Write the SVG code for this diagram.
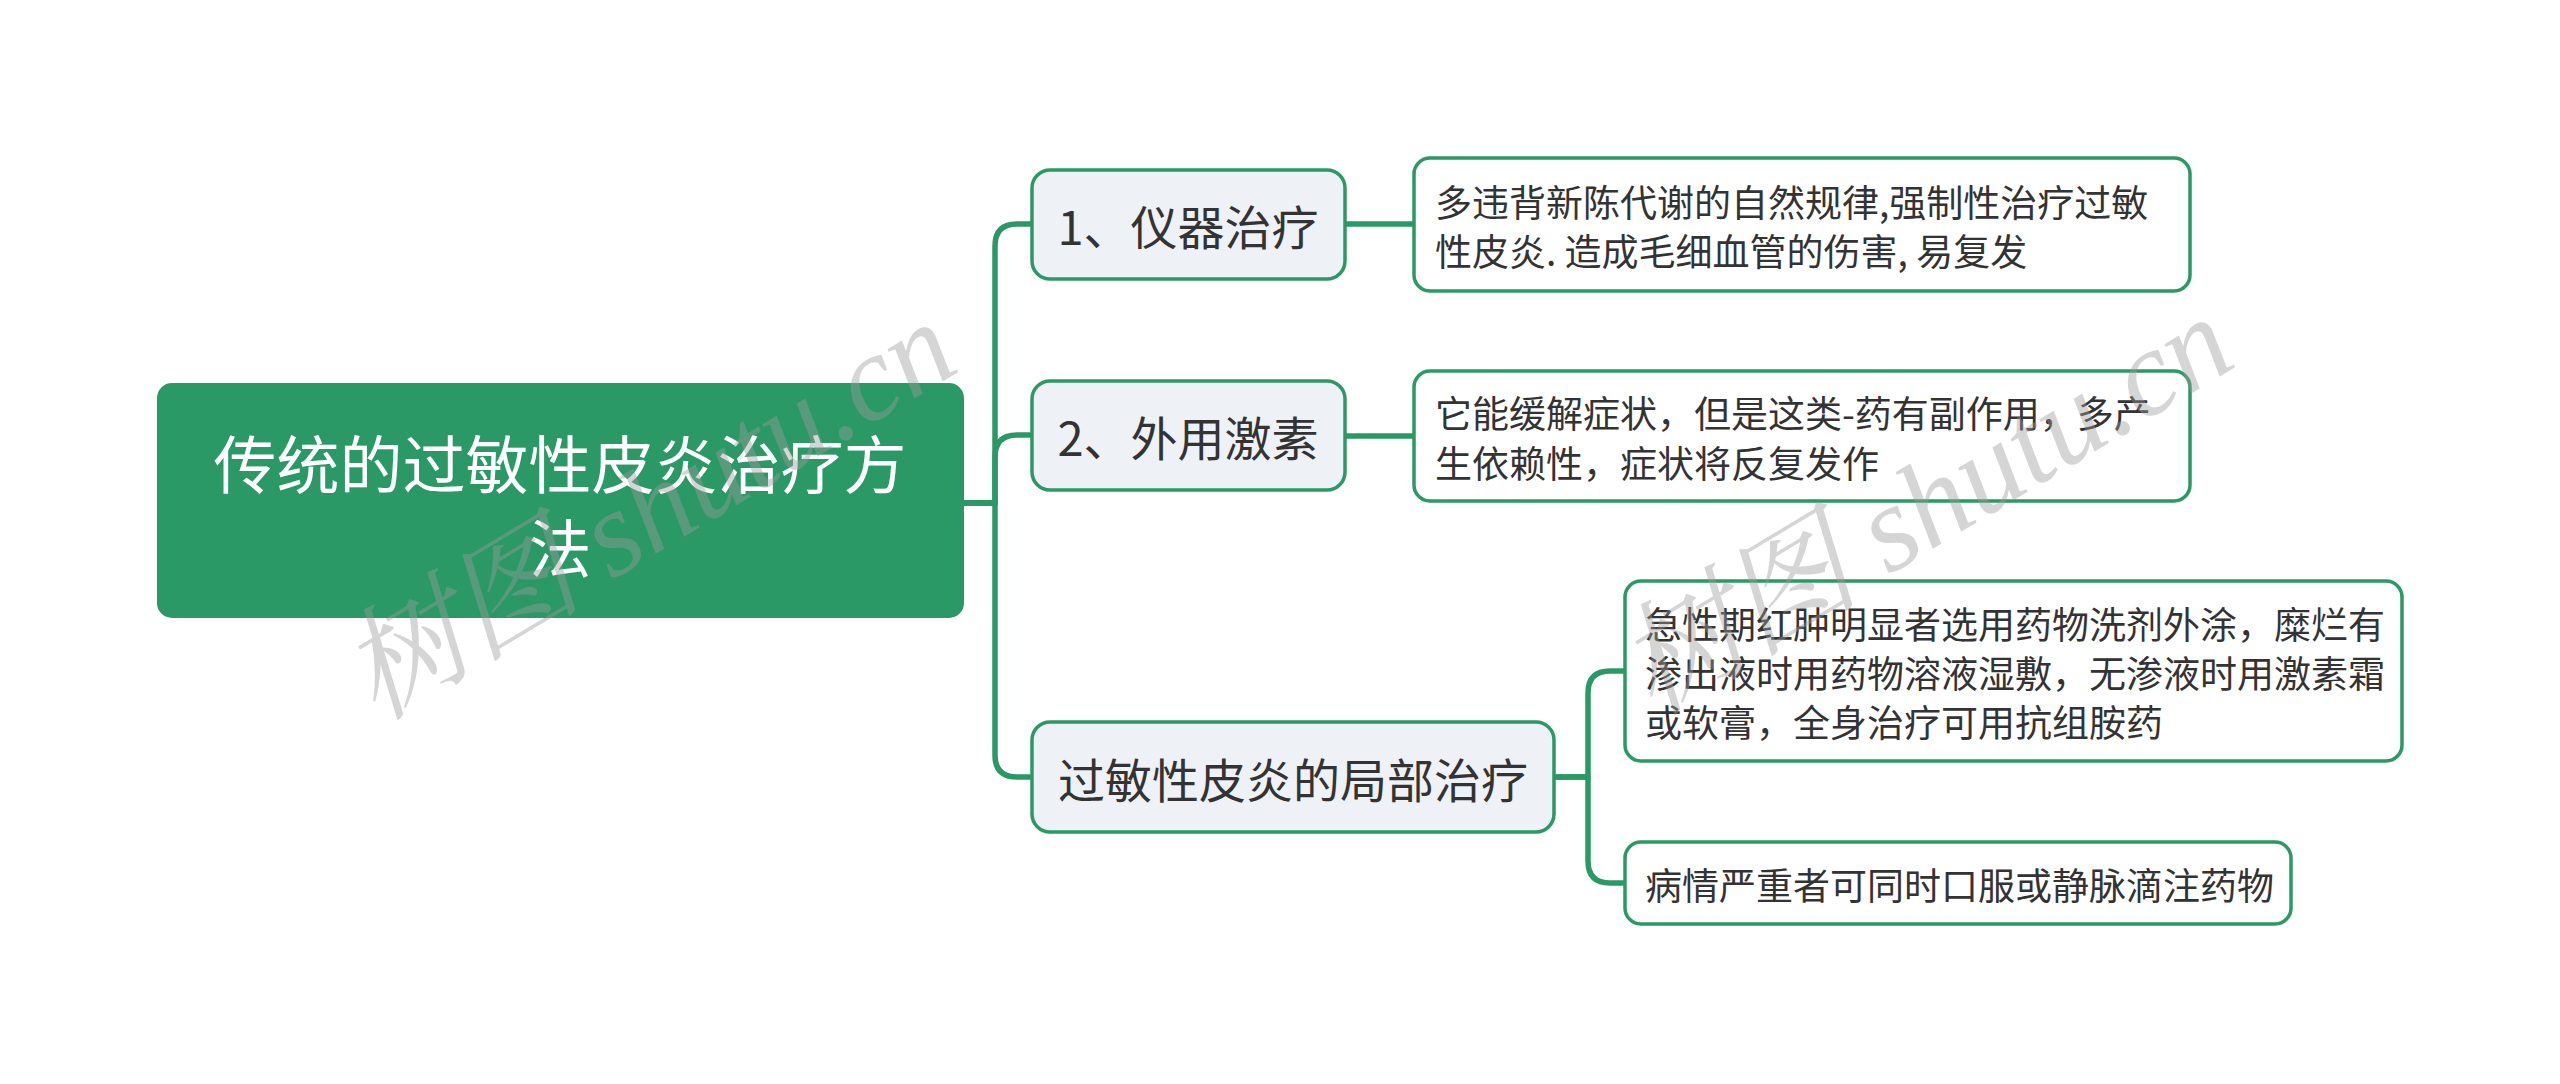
<svg xmlns="http://www.w3.org/2000/svg" width="2560" height="1084" viewBox="0 0 2560 1084">
<style>
.t{font-family:"Noto Sans CJK SC","Noto Sans",sans-serif;fill:#333333;dominant-baseline:central}
.root-box{fill:#2a9966;stroke:#2a9966;stroke-width:2}
.root-t{font-family:"Noto Sans CJK SC","Noto Sans",sans-serif;fill:#ffffff;font-size:63px;text-anchor:middle;dominant-baseline:central}
.br-box{fill:#eef1f5;stroke:#2a9966;stroke-width:3.5}
.br-t{font-size:47px;text-anchor:middle}
.lf-box{fill:#ffffff;stroke:#2a9966;stroke-width:3.5}
.lf-t{font-size:37px}
.conn{fill:none;stroke:#2a9966;stroke-width:5.5;stroke-linejoin:round}
.wm{font-family:"Liberation Serif","Noto Serif CJK SC","Noto Sans CJK SC",serif;font-style:italic;font-size:122px;fill:#9a9a9a;fill-opacity:0.42;text-anchor:middle;dominant-baseline:central}
</style>
<rect width="2560" height="1084" fill="#ffffff"/>
<g id="connectors">
<path class="conn" d="M963,503 H995 V246 Q995,224 1017,224 H1032"/>
<path class="conn" d="M963,503 H995 V457 Q995,435 1017,435 H1032"/>
<path class="conn" d="M963,503 H995 V755 Q995,777 1017,777 H1032"/>
<path class="conn" d="M1345,224 H1414"/>
<path class="conn" d="M1345,436 H1414"/>
<path class="conn" d="M1554,777 H1588 V693 Q1588,671 1610,671 H1625"/>
<path class="conn" d="M1554,777 H1588 V861 Q1588,883 1610,883 H1625"/>
</g>
<g id="root">
<rect class="root-box" x="158" y="384" width="805" height="233" rx="14"/>
<text class="root-t" x="560" y="460">传统的过敏性皮炎治疗方</text>
<text class="root-t" x="560" y="544">法</text>
</g>
<g id="branch1">
<rect class="br-box" x="1032" y="170" width="313" height="109" rx="18"/>
<text class="t br-t" x="1188" y="224">1、仪器治疗</text>
</g>
<g id="branch2">
<rect class="br-box" x="1032" y="381" width="313" height="109" rx="18"/>
<text class="t br-t" x="1188" y="435">2、外用激素</text>
</g>
<g id="branch3">
<rect class="br-box" x="1032" y="722" width="522" height="110" rx="18"/>
<text class="t br-t" x="1293" y="777">过敏性皮炎的局部治疗</text>
</g>
<g id="leaf1">
<rect class="lf-box" x="1414" y="158" width="776" height="133" rx="16"/>
<text class="t lf-t" x="1435" y="201">多违背新陈代谢的自然规律,强制性治疗过敏</text>
<text class="t lf-t" x="1435" y="250">性皮炎. 造成毛细血管的伤害, 易复发</text>
</g>
<g id="leaf2">
<rect class="lf-box" x="1414" y="371" width="776" height="130" rx="16"/>
<text class="t lf-t" x="1435" y="412">它能缓解症状，但是这类-药有副作用，多产</text>
<text class="t lf-t" x="1435" y="462">生依赖性，症状将反复发作</text>
</g>
<g id="leaf3">
<rect class="lf-box" x="1625" y="581" width="777" height="180" rx="16"/>
<text class="t lf-t" x="1645" y="623">急性期红肿明显者选用药物洗剂外涂，糜烂有</text>
<text class="t lf-t" x="1645" y="672">渗出液时用药物溶液湿敷，无渗液时用激素霜</text>
<text class="t lf-t" x="1645" y="721">或软膏，全身治疗可用抗组胺药</text>
</g>
<g id="leaf4">
<rect class="lf-box" x="1625" y="842" width="666" height="82" rx="16"/>
<text class="t lf-t" x="1645" y="884">病情严重者可同时口服或静脉滴注药物</text>
</g>
<g id="watermarks">
<text class="wm" transform="translate(648,510) rotate(-31)">树图 shutu.cn</text>
<text class="wm" transform="translate(1925,505) rotate(-31)">树图 shutu.cn</text>
</g>
</svg>
